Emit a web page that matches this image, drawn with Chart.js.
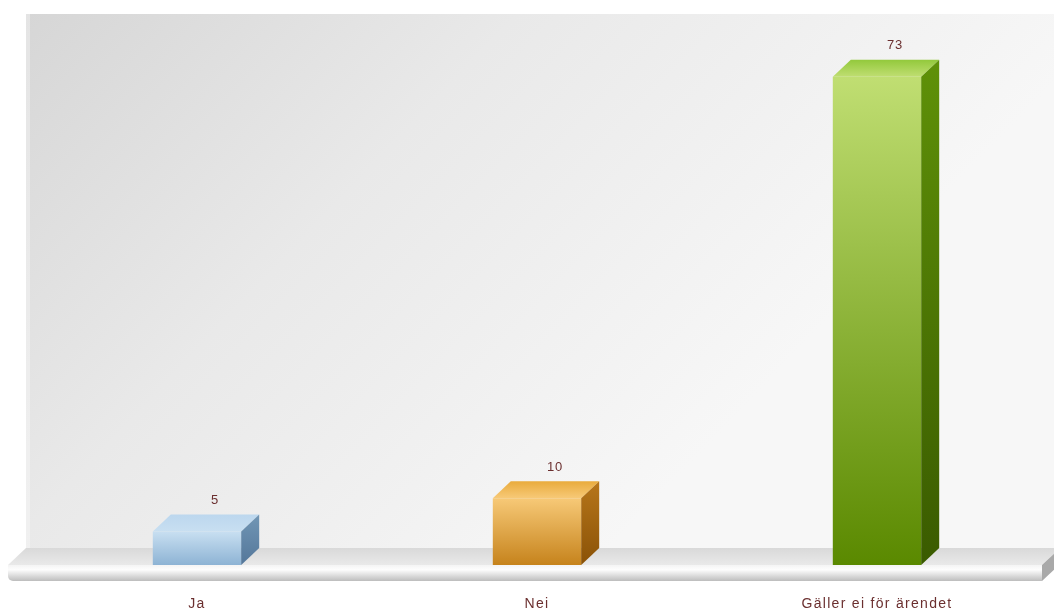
<!DOCTYPE html>
<html>
<head>
<meta charset="utf-8">
<script src="https://cdn.jsdelivr.net/npm/chart.js@4/dist/chart.umd.min.js"></script>
<style>
  html, body { margin: 0; background: #fff; }
  #wrap { width: 1054px; height: 612px; }
</style>
</head>
<body>
<div id="wrap"><canvas id="chart"></canvas></div>
<script>
const categories = ["Ja", "Nei", "Gäller ei för ärendet"];
const counts = [5, 10, 73];
const yMax = 82.4;

const palette = [
  { top: "#bcd7ee", frontHi: "#c8dff1", frontLo: "#8db3d4", side: "#7196b5", sideLo: "#54779a" },
  { top: "#e9ab3c", frontHi: "#f7c977", frontLo: "#c6831c", side: "#b7761a", sideLo: "#8a5207" },
  { top: "#93c93c", frontHi: "#c0de72", frontLo: "#5a8900", side: "#5f9108", sideLo: "#3a5b00" },
];
const DX = 18, DY = 17;
const textColor = "#6b2f2f";
const fontFamily = "'Liberation Sans', Arial, sans-serif";

// background wall + floor slab
const scenePlugin = {
  id: "scene",
  beforeDraw(chart) {
    chart.ctx.letterSpacing = "1.3px";
  },
  beforeDatasetsDraw(chart) {
    const { ctx, chartArea: a, width } = chart;
    const floorY = a.bottom;
    const wallL = a.left - 1;
    ctx.save();
    // wall
    let g = ctx.createLinearGradient(wallL, a.top, wallL + 574, a.top + 546);
    g.addColorStop(0, "#d6d6d6");
    g.addColorStop(0.45, "#e9e9e9");
    g.addColorStop(1, "#f7f7f7");
    ctx.fillStyle = g;
    ctx.fillRect(wallL, a.top, width - wallL, floorY - DY - a.top);
    ctx.fillStyle = "rgba(255,255,255,0.35)";
    ctx.fillRect(wallL, a.top, 4, floorY - DY - a.top);

    // floor top face
    const fl = a.left - 19, fr = a.right - 5;
    g = ctx.createLinearGradient(0, floorY - DY, 0, floorY);
    g.addColorStop(0, "#d9d9d9");
    g.addColorStop(1, "#e9e9e9");
    ctx.fillStyle = g;
    ctx.beginPath();
    ctx.moveTo(fl, floorY);
    ctx.lineTo(fl + DX, floorY - DY);
    ctx.lineTo(fr + DX, floorY - DY);
    ctx.lineTo(fr, floorY);
    ctx.closePath();
    ctx.fill();

    // floor right slanted end
    ctx.fillStyle = "#a9a9a9";
    ctx.beginPath();
    ctx.moveTo(fr, floorY);
    ctx.lineTo(fr + DX, floorY - DY);
    ctx.lineTo(fr + DX, floorY - 1);
    ctx.lineTo(fr, floorY + 16);
    ctx.closePath();
    ctx.fill();

    // floor front face
    g = ctx.createLinearGradient(0, floorY, 0, floorY + 16);
    g.addColorStop(0, "#f4f4f4");
    g.addColorStop(0.3, "#fdfdfd");
    g.addColorStop(1, "#bdbdbd");
    ctx.fillStyle = g;
    ctx.beginPath();
    ctx.roundRect(fl, floorY, fr - fl, 16, [0, 0, 0, 5]);
    ctx.fill();
    ctx.restore();
  },
  afterDatasetsDraw(chart) {
    const { ctx } = chart;
    const meta = chart.getDatasetMeta(0);
    ctx.save();
    meta.data.forEach((bar, i) => {
      const p = palette[i];
      const l = bar.x - bar.width / 2, r = bar.x + bar.width / 2;
      const t = bar.y, b = bar.base;
      // top face
      let g = ctx.createLinearGradient(0, t - DY, 0, t);
      g.addColorStop(0, p.top);
      g.addColorStop(1, p.frontHi);
      ctx.fillStyle = g;
      ctx.beginPath();
      ctx.moveTo(l, t);
      ctx.lineTo(l + DX, t - DY);
      ctx.lineTo(r + DX, t - DY);
      ctx.lineTo(r, t);
      ctx.closePath();
      ctx.fill();
      // side face
      g = ctx.createLinearGradient(0, t - DY, 0, b);
      g.addColorStop(0, p.side);
      g.addColorStop(1, p.sideLo);
      ctx.fillStyle = g;
      ctx.beginPath();
      ctx.moveTo(r, t);
      ctx.lineTo(r + DX, t - DY);
      ctx.lineTo(r + DX, b - DY);
      ctx.lineTo(r, b);
      ctx.closePath();
      ctx.fill();
      // value label
      ctx.fillStyle = textColor;
      ctx.font = "13px " + fontFamily;
      ctx.letterSpacing = "0.8px";
      ctx.textAlign = "center";
      ctx.textBaseline = "middle";
      ctx.fillText(String(counts[i]), bar.x + DX, t - DY - 14);
    });
    ctx.restore();
  },
};

new Chart(document.getElementById("chart"), {
  type: "bar",
  data: {
    labels: categories,
    datasets: [
      {
        data: counts,
        borderWidth: 0,
        barPercentage: 0.26,
        categoryPercentage: 1,
        backgroundColor: (c) => {
          const chart = c.chart;
          const p = palette[c.dataIndex] || palette[0];
          const y = chart.scales.y;
          if (!y || !chart.chartArea) return p.frontHi;
          const top = y.getPixelForValue(counts[c.dataIndex]);
          const base = y.getPixelForValue(0);
          const g = chart.ctx.createLinearGradient(0, top, 0, base);
          g.addColorStop(0, p.frontHi);
          g.addColorStop(1, p.frontLo);
          return g;
        },
      },
    ],
  },
  options: {
    responsive: true,
    maintainAspectRatio: false,
    animation: false,
    layout: { padding: { left: 27, right: 7, top: 14, bottom: 0 } },
    plugins: { legend: { display: false }, tooltip: { enabled: false } },
    scales: {
      x: {
        grid: { display: false, drawTicks: false },
        border: { display: false },
        ticks: {
          color: textColor,
          font: { family: fontFamily, size: 14 },
          padding: 31,
          maxRotation: 0,
        },
        afterFit: (s) => { s.height = 47; },
      },
      y: { display: false, min: 0, max: yMax },
    },
  },
  plugins: [scenePlugin],
});
</script>
</body>
</html>
